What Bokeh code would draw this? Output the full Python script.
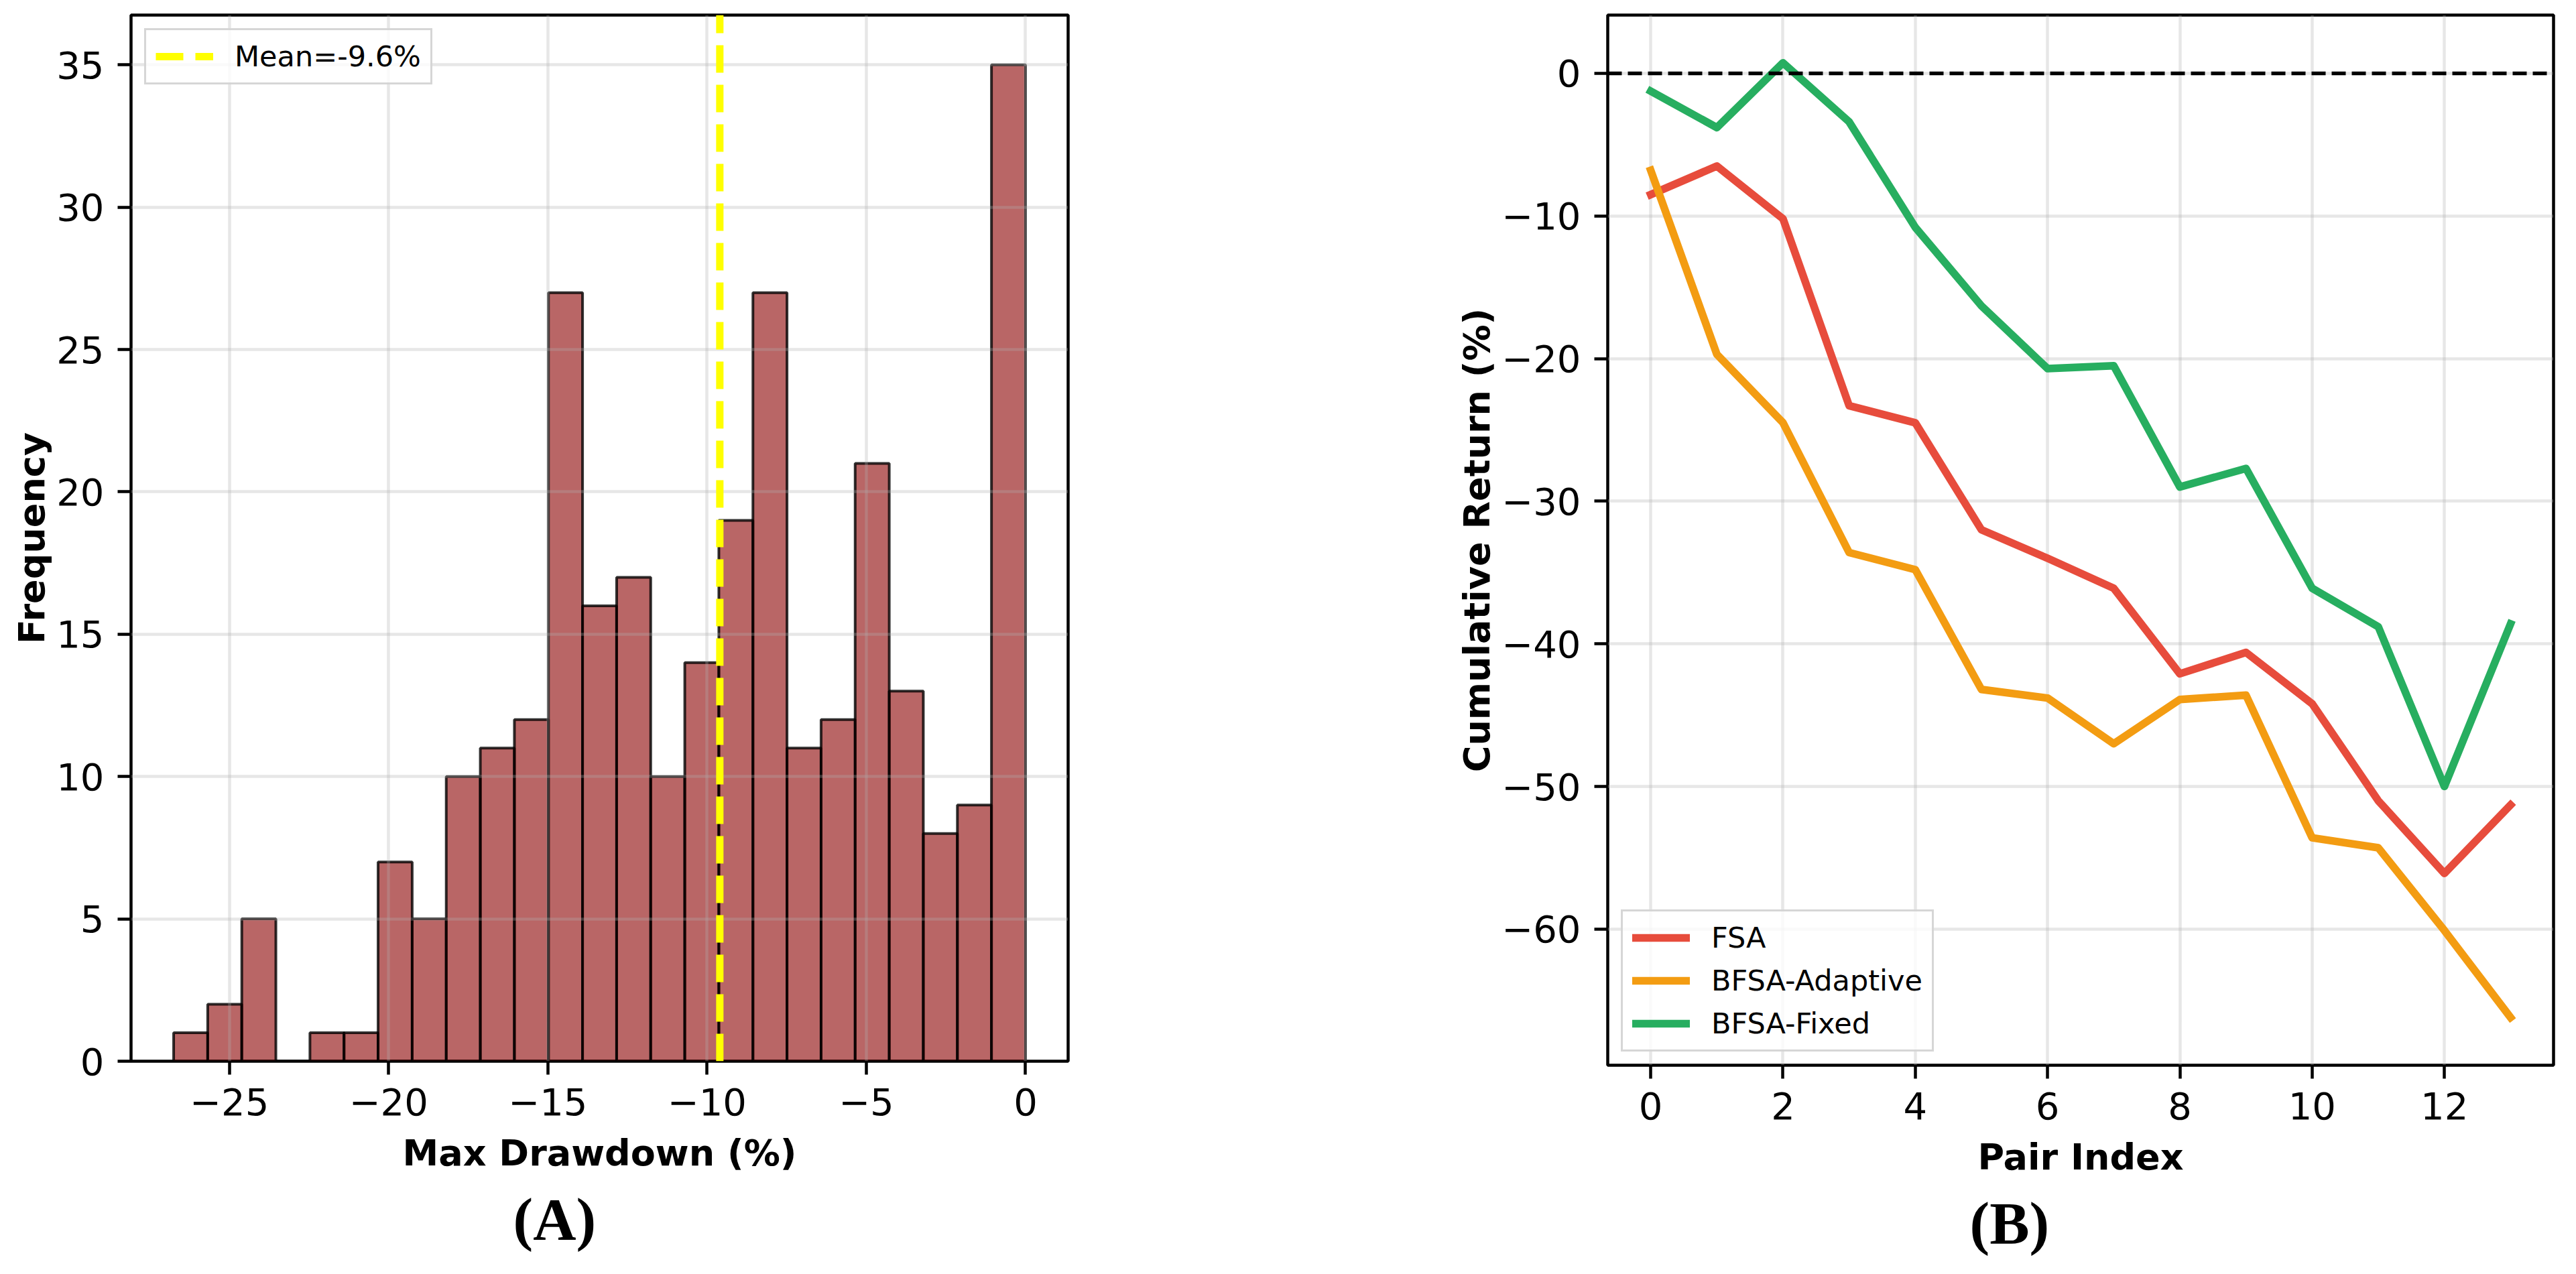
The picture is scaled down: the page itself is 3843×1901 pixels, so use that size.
import numpy as np
from bokeh.plotting import figure
from bokeh.layouts import row
from bokeh.models import (Range1d, SingleIntervalTicker, CustomJSTickFormatter, Span,
                          Title, Legend, LegendItem)
from bokeh.embed import file_html
from bokeh.resources import INLINE

# ---------------- Panel A data: histogram of max drawdown ----------------
dd_counts = [1, 2, 5, 0, 1, 1, 7, 5, 10, 11, 12, 27, 16, 17, 10, 14, 19, 27, 11, 12, 21, 13, 8, 9, 35]
dd_min = -26.75
dd_max = 0.0
dd_mean = -9.6
mean_label = "Mean=-9.6%"
a_xlabel = "Max Drawdown (%)"
a_ylabel = "Frequency"
a_panel = "(A)"

# ---------------- Panel B data: cumulative return per pair ----------------
pair_index = list(range(14))
fsa = [-8.5, -6.5, -10.2, -23.3, -24.5, -32.0, -34.0, -36.1, -42.1, -40.6, -44.2, -51.0, -56.1, -51.3]
bfsa_adaptive = [-6.8, -19.7, -24.5, -33.6, -34.8, -43.2, -43.8, -47.0, -43.9, -43.6, -53.6, -54.3, -60.1, -66.2]
bfsa_fixed = [-1.25, -3.8, 0.74, -3.4, -10.8, -16.3, -20.7, -20.5, -29.0, -27.7, -36.1, -38.8, -50.0, -38.6]
series_names = ["FSA", "BFSA-Adaptive", "BFSA-Fixed"]
series_colors = ["#e74c3c", "#f39c12", "#27ae60"]
zero_ref = 0.0
b_xlabel = "Pair Index"
b_ylabel = "Cumulative Return (%)"
b_panel = "(B)"

TICK_FONT = "DejaVu Sans"
TICK_SIZE = "56px"
LABEL_SIZE = "54px"
LEGEND_SIZE = "43px"
LW = 4.5

fmt_code = "return tick < 0 ? '\\u2212' + Math.abs(tick) : String(tick);"


def style(p, xint, yint):
    p.xaxis.ticker = SingleIntervalTicker(interval=xint, num_minor_ticks=0)
    p.yaxis.ticker = SingleIntervalTicker(interval=yint, num_minor_ticks=0)
    p.xgrid.ticker = p.xaxis.ticker
    p.ygrid.ticker = p.yaxis.ticker
    for ax in (p.xaxis, p.yaxis):
        ax.formatter = CustomJSTickFormatter(code=fmt_code)
        ax.axis_line_color = None
        ax.major_tick_line_color = "black"
        ax.major_tick_line_width = LW
        ax.major_tick_out = 20
        ax.major_tick_in = 0
        ax.minor_tick_line_color = None
        ax.major_label_text_font = TICK_FONT
        ax.major_label_text_font_size = TICK_SIZE
        ax.major_label_text_color = "black"
        ax.major_label_standoff = 20
        ax.axis_label_text_font = TICK_FONT
        ax.axis_label_text_font_size = LABEL_SIZE
        ax.axis_label_text_font_style = "bold"
        ax.axis_label_text_color = "black"
    p.xaxis.axis_label_standoff = 22
    p.yaxis.axis_label_standoff = 2
    p.grid.grid_line_color = "#b0b0b0"
    p.grid.grid_line_alpha = 0.3
    p.grid.grid_line_width = LW
    p.outline_line_color = "black"
    p.outline_line_width = LW
    p.outline_line_alpha = 1.0
    p.background_fill_color = "white"
    p.border_fill_color = "white"


def style_legend(leg):
    leg.label_text_font = TICK_FONT
    leg.label_text_font_size = LEGEND_SIZE
    leg.label_text_color = "black"
    leg.glyph_width = 86
    leg.glyph_height = 44
    leg.label_height = 44
    leg.label_standoff = 32
    leg.padding = 14
    leg.spacing = 14
    leg.margin = 20
    leg.border_line_color = "#cccccc"
    leg.border_line_width = 3
    leg.border_line_alpha = 0.8
    leg.background_fill_color = "white"
    leg.background_fill_alpha = 0.8


def panel_title(p, text, offset):
    t = Title(text=text, align="left", offset=offset, standoff=26,
              text_font="Liberation Serif", text_font_style="bold",
              text_font_size="89px", text_color="black")
    p.add_layout(t, "below")


# ---------------- Panel A ----------------
edges = np.linspace(dd_min, dd_max, len(dd_counts) + 1)
pad_a = 0.05 * (dd_max - dd_min)
xa = Range1d(dd_min - pad_a, dd_max + pad_a)
ya = Range1d(0, max(dd_counts) * 1.05)
pa = figure(x_range=xa, y_range=ya, frame_width=1398, frame_height=1561,
            min_border_left=195, min_border_right=299, min_border_top=22, min_border_bottom=290,
            output_backend="svg", toolbar_location=None)
style(pa, 5, 5)
pa.xaxis.axis_label = a_xlabel
pa.yaxis.axis_label = a_ylabel

pa.quad(left=edges[:-1], right=edges[1:], bottom=0, top=dd_counts,
        fill_color="darkred", fill_alpha=0.6, line_color="black", line_alpha=0.8,
        line_width=4, level="image")
mean_r = pa.line(x=[dd_mean, dd_mean], y=[ya.start, ya.end], line_color="#ffff00",
                 line_width=11, line_dash="41 18")
leg_a = Legend(items=[LegendItem(label=mean_label, renderers=[mean_r])], location="top_left")
style_legend(leg_a)
pa.add_layout(leg_a)
panel_title(pa, a_panel, 570)

# ---------------- Panel B ----------------
all_vals = fsa + bfsa_adaptive + bfsa_fixed
ymin_b, ymax_b = min(all_vals), max(all_vals)
pad_yb = 0.05 * (ymax_b - ymin_b)
pad_xb = 0.05 * (pair_index[-1] - pair_index[0])
xb = Range1d(pair_index[0] - pad_xb, pair_index[-1] + pad_xb)
yb = Range1d(ymin_b - pad_yb, ymax_b + pad_yb)
pb = figure(x_range=xb, y_range=yb, frame_width=1411, frame_height=1567,
            min_border_left=506, min_border_right=10, min_border_top=14, min_border_bottom=290,
            output_backend="svg", toolbar_location=None)
style(pb, 2, 10)
pb.xaxis.axis_label = b_xlabel
pb.yaxis.axis_label = b_ylabel

pb.add_layout(Span(location=zero_ref, dimension="width", line_color="black",
                   line_width=5.6, line_dash="21 9"))
items = []
for name, vals, col in zip(series_names, [fsa, bfsa_adaptive, bfsa_fixed], series_colors):
    r = pb.line(x=pair_index, y=vals, line_color=col, line_width=11.5,
                line_join="round", line_cap="square")
    items.append(LegendItem(label=name, renderers=[r]))
leg_b = Legend(items=items, location="bottom_left")
style_legend(leg_b)
pb.add_layout(leg_b)
panel_title(pb, b_panel, 540)

layout = row(pa, pb, spacing=0)
open("out.html", "w").write(file_html(layout, INLINE))
